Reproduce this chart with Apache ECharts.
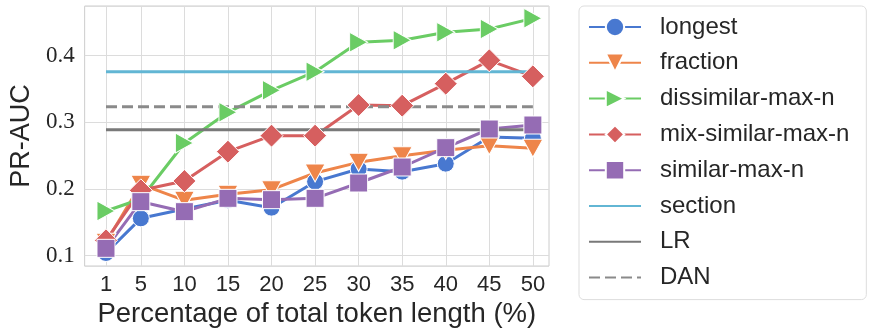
<!DOCTYPE html>
<html>
<head>
<meta charset="utf-8">
<style type="text/css">
html, body { margin: 0; padding: 0; background: #fff; }
#chart { width: 872px; height: 335px; }
</style>
<script type="text/javascript" src="https://cdn.jsdelivr.net/npm/echarts@6/dist/echarts.min.js"></script>
</head>
<body>
<div id="chart"></div>
<script type="text/javascript">
// percentage of total token length
var pct = [1, 5, 10, 15, 20, 25, 30, 35, 40, 45, 50];

var longest = [0.104, 0.156, 0.170, 0.183, 0.172, 0.211, 0.230, 0.226, 0.238, 0.278, 0.276];
var fraction = [0.120, 0.207, 0.183, 0.192, 0.199, 0.224, 0.240, 0.250, 0.258, 0.265, 0.261];
var dissimilar = [0.167, 0.185, 0.269, 0.315, 0.348, 0.376, 0.420, 0.423, 0.435, 0.440, 0.456];
var mixSimilar = [0.123, 0.198, 0.212, 0.256, 0.280, 0.280, 0.326, 0.325, 0.358, 0.393, 0.369];
var similar = [0.111, 0.181, 0.166, 0.186, 0.184, 0.186, 0.209, 0.233, 0.262, 0.290, 0.296];

// baselines
var section = 0.376, lr = 0.289, dan = 0.3235;

var chart = echarts.init(document.getElementById('chart'));

function pts(arr) {
	return pct.map(function (x, i) { return [x, arr[i]]; });
}
function flat(v) {
	return [[pct[0], v], [pct[pct.length - 1], v]];
}

var downTri = 'path://M0,0 L20,0 L10,18 Z';
var rightTri = 'path://M0,0 L18,10 L0,20 Z';

function markerSeries(name, arr, color, symbol, size) {
	return {
		name: name,
		type: 'line',
		data: pts(arr),
		symbol: symbol,
		symbolSize: size,
		showAllSymbol: true,
		lineStyle: { color: color, width: 3 },
		itemStyle: { color: color, borderColor: '#fff', borderWidth: 1 },
		emphasis: { disabled: true },
		animation: false
	};
}

function flatSeries(name, v, color, type) {
	return {
		name: name,
		type: 'line',
		data: flat(v),
		symbol: 'none',
		lineStyle: { color: color, width: 3, type: type || 'solid' },
		itemStyle: { color: color },
		emphasis: { disabled: true },
		animation: false
	};
}

var ticks = pct.slice();
var noMark = { opacity: 0 };

chart.setOption({
	animation: false,
	grid: {
		left: 75,
		right: 323,
		top: 6,
		bottom: 69,
		show: true,
		borderColor: '#cccccc',
		borderWidth: 1
	},
	legend: {
		orient: 'vertical',
		left: 579,
		top: 6,
		padding: [9, 17, 10, 9],
		itemWidth: 52,
		itemHeight: 23,
		itemGap: 11.8,
		borderColor: '#dddddd',
		borderWidth: 1,
		borderRadius: 5,
		textStyle: {
			fontFamily: 'Liberation Sans',
			fontSize: 24,
			color: '#262626',
			padding: [0, 0, 0, 14]
		},
		data: ['longest', 'fraction', 'dissimilar-max-n', 'mix-similar-max-n', 'similar-max-n',
			{ name: 'section', itemStyle: noMark },
			{ name: 'LR', itemStyle: noMark },
			{ name: 'DAN', itemStyle: noMark }]
	},
	xAxis: {
		type: 'value',
		min: -1.45,
		max: 51.85,
		name: 'Percentage of total token length (%)',
		nameLocation: 'middle',
		nameGap: 32,
		nameTextStyle: { fontFamily: 'Liberation Sans', fontSize: 27.5, color: '#262626' },
		axisLine: { show: false },
		axisTick: { show: false, customValues: ticks },
		axisLabel: {
			customValues: ticks,
			margin: 8,
			fontFamily: 'Liberation Sans',
			fontSize: 22,
			color: '#262626'
		},
		splitLine: { show: true, customValues: ticks, lineStyle: { color: '#dcdcdc', width: 1 } }
	},
	yAxis: {
		type: 'value',
		min: 0.0845,
		max: 0.4745,
		splitNumber: 4,
		name: 'PR-AUC',
		nameLocation: 'middle',
		nameGap: 40,
		nameTextStyle: { fontFamily: 'Liberation Sans', fontSize: 27, color: '#262626' },
		axisLine: { show: false },
		axisTick: { show: false },
		axisLabel: {
			showMinLabel: false,
			showMaxLabel: false,
			margin: 10,
			fontFamily: 'Liberation Serif',
			fontSize: 23,
			color: '#262626',
			formatter: function (v) { return v.toFixed(1); }
		},
		splitLine: { show: true, lineStyle: { color: '#dcdcdc', width: 1 } }
	},
	series: [
		markerSeries('longest', longest, '#4878d0', 'circle', 17),
		markerSeries('fraction', fraction, '#ee854a', downTri, [20, 18]),
		markerSeries('dissimilar-max-n', dissimilar, '#6acc64', rightTri, [18, 20]),
		markerSeries('mix-similar-max-n', mixSimilar, '#d65f5f', 'diamond', 23),
		markerSeries('similar-max-n', similar, '#956cb4', 'rect', 18),
		flatSeries('section', section, '#62b6d4'),
		flatSeries('LR', lr, '#797979'),
		flatSeries('DAN', dan, '#8a8a8a', [11, 5])
	]
});
</script>
</body>
</html>
